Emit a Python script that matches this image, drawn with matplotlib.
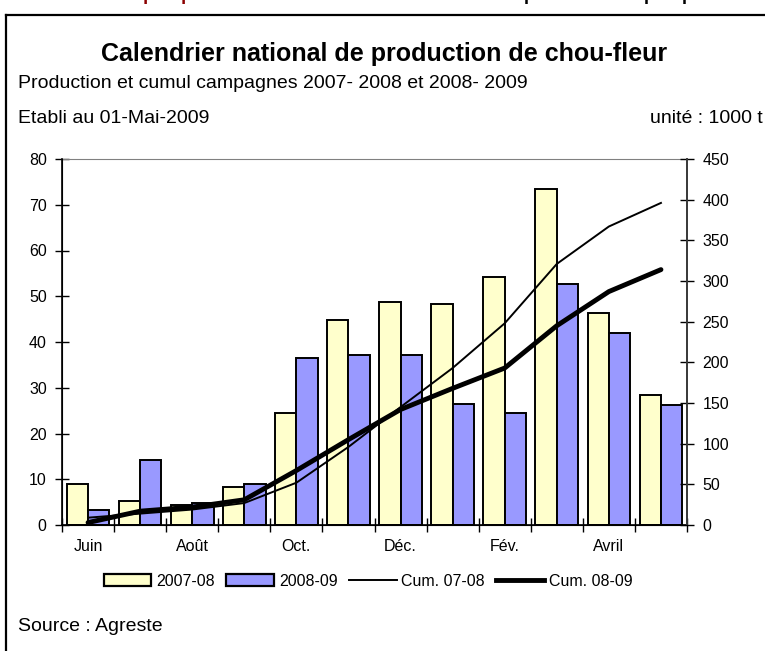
"""Calendrier national de production de chou-fleur, 2007-08 vs 2008-09."""

import matplotlib

matplotlib.use("Agg")
import matplotlib.pyplot as plt
import numpy as np
from matplotlib.lines import Line2D
from matplotlib.patches import Patch

plt.rcParams["font.family"] = ["Liberation Sans", "DejaVu Sans"]

months = ["Juin", "Juil.", "Août", "Sept.", "Oct.", "Nov.", "Déc.", "Janv.", "Fév.", "Mars", "Avril", "Mai"]
shown_labels = ["Juin", "", "Août", "", "Oct.", "", "Déc.", "", "Fév.", "", "Avril", ""]

prod_0708 = [9.0, 5.3, 4.4, 8.4, 24.5, 44.8, 48.7, 48.4, 54.3, 73.4, 46.3, 28.4]
prod_0809 = [3.3, 14.1, 4.7, 9.0, 36.4, 37.2, 37.2, 26.4, 24.5, 52.6, 41.9, 26.2]
cum_0708 = [9, 14, 19, 27, 52, 96, 145, 193, 248, 321, 367, 396]
cum_0809 = [3, 17, 22, 31, 67, 105, 142, 168, 193, 245, 287, 314]

YELLOW = "#FFFFCC"
BLUE = "#9999FF"
TICK_FS = 11.5
TEXT_FS = 14

W, H = 765, 651
fig = plt.figure(figsize=(W / 100, H / 100), dpi=100)


def fx(px):
    return px / W


def fy(py):
    return 1 - py / H


# frame around the chart (runs off the right and bottom of the image)
fig.add_artist(Line2D([fx(6), fx(6)], [fy(15), fy(H + 5)], color="black", lw=1.6))
fig.add_artist(Line2D([fx(6), fx(W + 5)], [fy(15), fy(15)], color="black", lw=1.6))

# page heading, cut off at the top in the reference
fig.text(fx(40), fy(0.5), "Situation et perspectives - ", color="#8B0000", fontsize=13,
         fontweight="bold", va="baseline")
fig.text(fx(330), fy(0.5), "Calendrier national de production et perspectives du chou-fleur",
         color="black", fontsize=13, fontweight="bold", va="baseline")

fig.text(fx(384), fy(61), "Calendrier national de production de chou-fleur", ha="center",
         va="baseline", fontsize=18, fontweight="bold")
fig.text(fx(18), fy(88), "Production et cumul campagnes 2007- 2008 et 2008- 2009", va="baseline",
         fontsize=TEXT_FS)
fig.text(fx(18), fy(123), "Etabli au 01-Mai-2009", va="baseline", fontsize=TEXT_FS)
fig.text(fx(650), fy(123), "unité : 1000 t", va="baseline", ha="left", fontsize=TEXT_FS)
fig.text(fx(18), fy(631), "Source : Agreste", va="baseline", fontsize=TEXT_FS)

ax = fig.add_axes([fx(62), fy(525), fx(687) - fx(62), fy(159) - fy(525)])
x = np.arange(len(months))
bw = 0.41
ax.bar(x - bw / 2, prod_0708, bw, color=YELLOW, edgecolor="black", linewidth=1.4)
ax.bar(x + bw / 2, prod_0809, bw, color=BLUE, edgecolor="black", linewidth=1.4)
ax.set_xlim(-0.5, 11.5)
ax.set_ylim(0, 80)
ax.set_yticks(range(0, 81, 10))
ax.set_xticks(np.arange(-0.5, 12, 1))
ax.set_xticklabels([])
ax.set_xticks(x, minor=True)
ax.set_xticklabels(shown_labels, minor=True)
ax.tick_params(axis="x", which="major", direction="inout", length=10, width=1)
ax.tick_params(axis="x", which="minor", length=0, pad=10, labelsize=TICK_FS)
ax.tick_params(axis="y", direction="inout", length=10, width=1, labelsize=TICK_FS, pad=6)
ax.spines["top"].set_color("#808080")
for side in ["left", "bottom", "right"]:
    ax.spines[side].set_linewidth(1.2)

ax2 = ax.twinx()
ax2.plot(x, cum_0708, color="black", linewidth=1.4)
ax2.plot(x, cum_0809, color="black", linewidth=3.5, solid_capstyle="round")
ax2.set_ylim(0, 450)
ax2.set_yticks(range(0, 451, 50))
ax2.tick_params(axis="y", direction="inout", length=10, width=1, labelsize=TICK_FS, pad=6)
ax2.spines["right"].set_color("#404040")
ax2.spines["right"].set_linewidth(1.2)
ax2.spines["top"].set_visible(False)

handles = [
    Patch(facecolor=YELLOW, edgecolor="black", linewidth=1.6),
    Patch(facecolor=BLUE, edgecolor="black", linewidth=1.6),
    Line2D([], [], color="black", linewidth=1.4),
    Line2D([], [], color="black", linewidth=3.5),
]
labels = ["2007-08", "2008-09", "Cum. 07-08", "Cum. 08-09"]
fig.legend(handles, labels, loc="center", bbox_to_anchor=(fx(368), fy(581)), ncol=4,
           frameon=False, fontsize=TICK_FS, handlelength=3.0, handleheight=0.75,
           handletextpad=0.3, columnspacing=0.7)

fig.savefig("out.png", dpi=100)
